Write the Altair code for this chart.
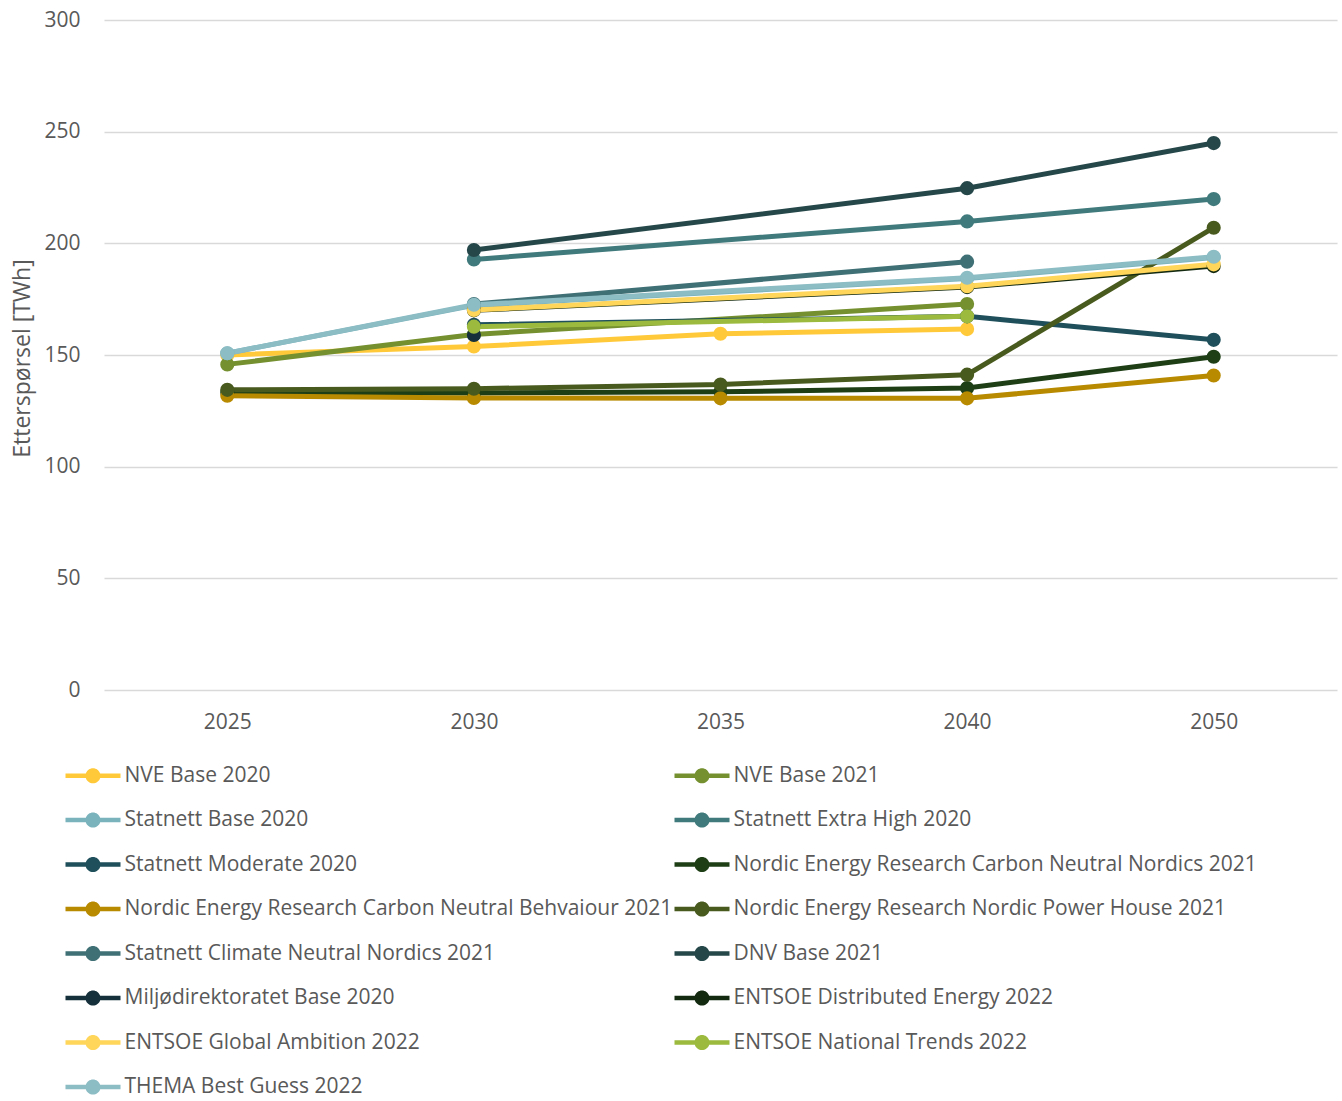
import altair as alt
import pandas as pd

# Scenario years on the horizontal axis
years = ["2025", "2030", "2035", "2040", "2050"]

# Electricity demand scenarios (TWh); None = no value for that year
series_names = [
    "NVE Base 2020",
    "NVE Base 2021",
    "Statnett Base 2020",
    "Statnett Extra High 2020",
    "Statnett Moderate 2020",
    "Nordic Energy Research Carbon Neutral Nordics 2021",
    "Nordic Energy Research Carbon Neutral Behvaiour 2021",
    "Nordic Energy Research Nordic Power House 2021",
    "Statnett Climate Neutral Nordics 2021",
    "DNV Base 2021",
    "Miljødirektoratet Base 2020",
    "ENTSOE Distributed Energy 2022",
    "ENTSOE Global Ambition 2022",
    "ENTSOE National Trends 2022",
    "THEMA Best Guess 2022",
]

nve_base_2020 = [150.0, 153.8, 159.5, 161.6, None]
nve_base_2021 = [145.8, 159.2, None, 172.8, None]
statnett_base_2020 = [150.8, 172.2, None, 184.2, 193.6]
statnett_extra_high_2020 = [None, 192.8, None, 209.8, 219.8]
statnett_moderate_2020 = [None, 163.5, None, 167.3, 156.8]
ner_cn_nordics_2021 = [133.2, 133.0, 133.5, 135.2, 149.2]
ner_cn_behaviour_2021 = [131.8, 130.8, 130.6, 130.6, 140.8]
ner_power_house_2021 = [134.4, 134.9, 136.8, 141.2, 207.0]
statnett_cn_nordics_2021 = [None, 172.8, None, 191.8, None]
dnv_base_2021 = [None, 197.0, None, 224.7, 244.9]
miljodir_base_2020 = [None, 159.0, None, None, None]
entsoe_distributed_2022 = [None, 170.0, None, 180.4, 189.8]
entsoe_global_2022 = [None, 170.2, None, 180.8, 190.6]
entsoe_national_2022 = [None, 162.7, None, 167.3, None]
thema_best_guess_2022 = [150.8, 172.5, None, 184.6, 194.0]

series_values = [
    nve_base_2020, nve_base_2021, statnett_base_2020, statnett_extra_high_2020,
    statnett_moderate_2020, ner_cn_nordics_2021, ner_cn_behaviour_2021,
    ner_power_house_2021, statnett_cn_nordics_2021, dnv_base_2021,
    miljodir_base_2020, entsoe_distributed_2022, entsoe_global_2022,
    entsoe_national_2022, thema_best_guess_2022,
]

series_colors = [
    "#FFC93A", "#74902F", "#7AB3BC", "#407A7C", "#1E4F5A",
    "#1E3F16", "#B88A00", "#495A1E", "#3F7076", "#25474A",
    "#15303A", "#132A10", "#FFD55A", "#9CBB3E", "#8CBCC4",
]

rows = []
for k, (name, vals) in enumerate(zip(series_names, series_values)):
    for yr, v in zip(years, vals):
        if v is not None:
            rows.append({"Scenario": name, "year": yr, "value": v, "k": k})
df = pd.DataFrame(rows)

# The legend grid fills column by column; order the entries so that
# the series read left-to-right, row by row.
legend_order = list(range(0, len(series_names), 2)) + list(range(1, len(series_names), 2))
legend_names = [series_names[i] for i in legend_order]
legend_colors = [series_colors[i] for i in legend_order]

FONT = "Open Sans"
TEXT = "#595959"
FS = 21

# Legend symbol: a short line with a dot in the middle
t, r, L = 0.22, 0.75, 2.75
xi = (r * r - t * t) ** 0.5
legend_path = (
    f"M{-L},{-t} L{-xi:.4f},{-t} A{r},{r} 0 0,1 {xi:.4f},{-t} L{L},{-t} "
    f"L{L},{t} L{xi:.4f},{t} A{r},{r} 0 0,1 {-xi:.4f},{t} L{-L},{t} Z"
)

legend = alt.Legend(
    title=None, orient="none", legendX=-39, legendY=745,
    columns=2, columnPadding=1, rowPadding=22.5,
    symbolType=legend_path, symbolSize=400, symbolStrokeWidth=0,
    symbolOffset=17.5, labelOffset=21, symbolOpacity=1,
    labelFont=FONT, labelFontSize=FS, labelColor=TEXT, labelLimit=0,
)
color_enc = alt.Color("Scenario:N", scale=alt.Scale(domain=legend_names, range=legend_colors),
                      sort=legend_names, legend=legend)

x_enc = alt.X(
    "year:O",
    sort=years,
    scale=alt.Scale(domain=years, padding=0.5),
    axis=alt.Axis(
        title=None, labelAngle=0, ticks=False, domain=False, grid=False,
        labelPadding=21, labelFontSize=FS, labelColor=TEXT, labelFont=FONT,
    ),
)
y_enc = alt.Y(
    "value:Q",
    scale=alt.Scale(domain=[0, 300], nice=False),
    axis=alt.Axis(
        title="Etterspørsel [TWh]", values=[0, 50, 100, 150, 200, 250, 300],
        ticks=False, domain=False, gridColor="#D9D9D9", gridWidth=1.5,
        labelPadding=24, labelFontSize=FS, labelColor=TEXT, labelFont=FONT,
        titleFontSize=23, titleColor=TEXT, titleFont=FONT, titleFontWeight="normal",
        titleX=-82, titleY=338, titleAngle=270, titleAlign="center", titleBaseline="middle",
    ),
)

lines = alt.Chart(df).mark_line(strokeWidth=5).encode(
    x=x_enc,
    y=y_enc,
    color=color_enc,
    detail="k:N",
    order=alt.Order("year:O"),
)

points = alt.Chart(df).mark_point(filled=True, size=200, opacity=1).encode(
    x=x_enc,
    y=y_enc,
    color=color_enc,
    order=alt.Order("k:Q"),
)

chart = (
    alt.layer(lines, points)
    .properties(
        width=1233, height=670,
        autosize=alt.AutoSizeParams(type="none"),
        padding={"left": 104, "top": 20, "right": 5, "bottom": 411},
    )
    .configure_view(stroke=None)
)

chart.save("out.html", embed_options={"renderer": "svg", "actions": False})
